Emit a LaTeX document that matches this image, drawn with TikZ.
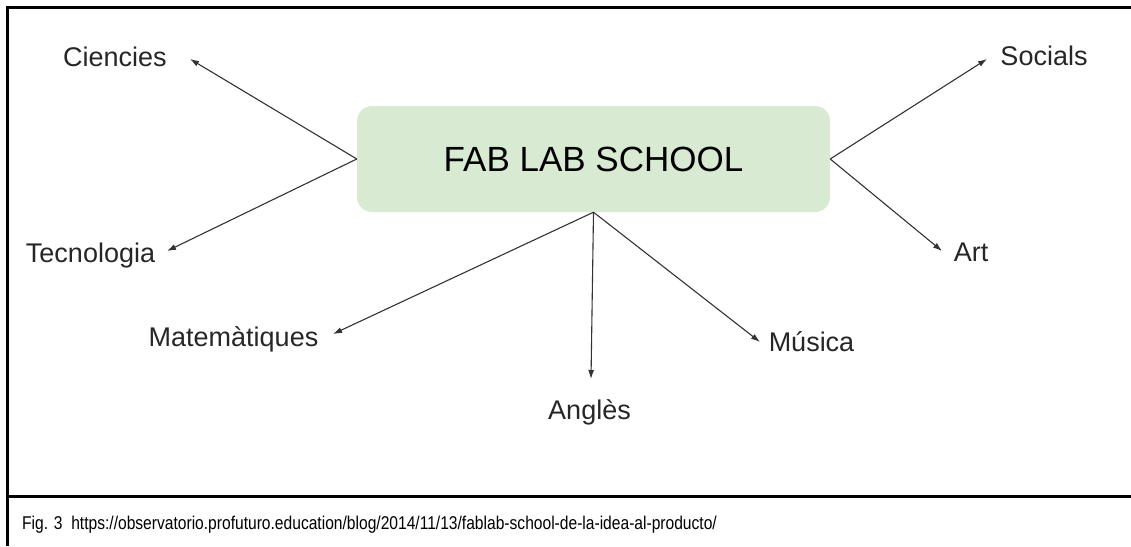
\documentclass[tikz,border=0pt]{standalone}
\usepackage{fontspec}
\setmainfont{Liberation Sans}
\usetikzlibrary{arrows.meta}
\definecolor{boxgreen}{HTML}{D9EAD3}
\definecolor{linegray}{HTML}{333333}
\begin{document}
\begin{tikzpicture}[x=1pt,y=-1pt,
	subject/.style={inner sep=0pt,text height=19pt,text depth=0pt,text=black!85,font=\fontsize{27}{32}\selectfont},
	link/.style={-{Latex[length=9pt,width=6pt]},line width=1.1pt,draw=linegray},
	frame/.style={line width=3pt}]
	\useasboundingbox (0,0) rectangle (1131,546);

	% frame round the figure and its caption
	\draw[frame] (7,546) -- (7,7) -- (1131,7);
	\draw[frame] (7,496) -- (1131,496);

	\node 	(fab)		at	(593.5,159) 	[rectangle,rounded corners=15pt,fill=boxgreen,minimum width=473pt,minimum height=106pt,inner sep=0pt,font=\fontsize{35}{42}\selectfont]{FAB LAB SCHOOL};

	\node 	(cien)		at	(115,56.5) 	[subject]{Ciencies};
	\node 	(tec)		at	(90.5,252.5) 	[subject]{Tecnologia};
	\node 	(mat)		at	(233.5,336.5) 	[subject]{Matemàtiques};
	\node 	(angl)		at	(589.5,409.5) 	[subject]{Anglès};
	\node 	(mus)		at	(811.5,342) 	[subject]{Música};
	\node 	(art)		at	(971,252) 	[subject]{Art};
	\node 	(soc)		at	(1044,56) 	[subject]{Socials};

	% arrow tips next to the subjects
	\coordinate (cienTip) at (190,59);
	\coordinate (tecTip) at (167,251);
	\coordinate (matTip) at (333,334);
	\coordinate (anglTip) at (591,379);
	\coordinate (musTip) at (760,342);
	\coordinate (artTip) at (942,251);
	\coordinate (socTip) at (987,59);

	\draw[link] (fab.west) 	-- 	(cienTip);
	\draw[link] (fab.west) 	-- 	(tecTip);
	\draw[link] (fab.south) 	-- 	(matTip);
	\draw[link] (fab.south) 	-- 	(anglTip);
	\draw[link] (fab.south) 	-- 	(musTip);
	\draw[link] (fab.east) 	-- 	(artTip);
	\draw[link] (fab.east) 	-- 	(socTip);

	\node 	(caption)	at	(22,529) 	[anchor=base west,inner sep=0pt,xscale=0.843,transform shape,font=\fontsize{18.5}{22}\selectfont]{Fig. 3\ \ https://observatorio.profuturo.education/blog/2014/11/13/fablab-school-de-la-idea-al-producto/};
\end{tikzpicture}
\end{document}
